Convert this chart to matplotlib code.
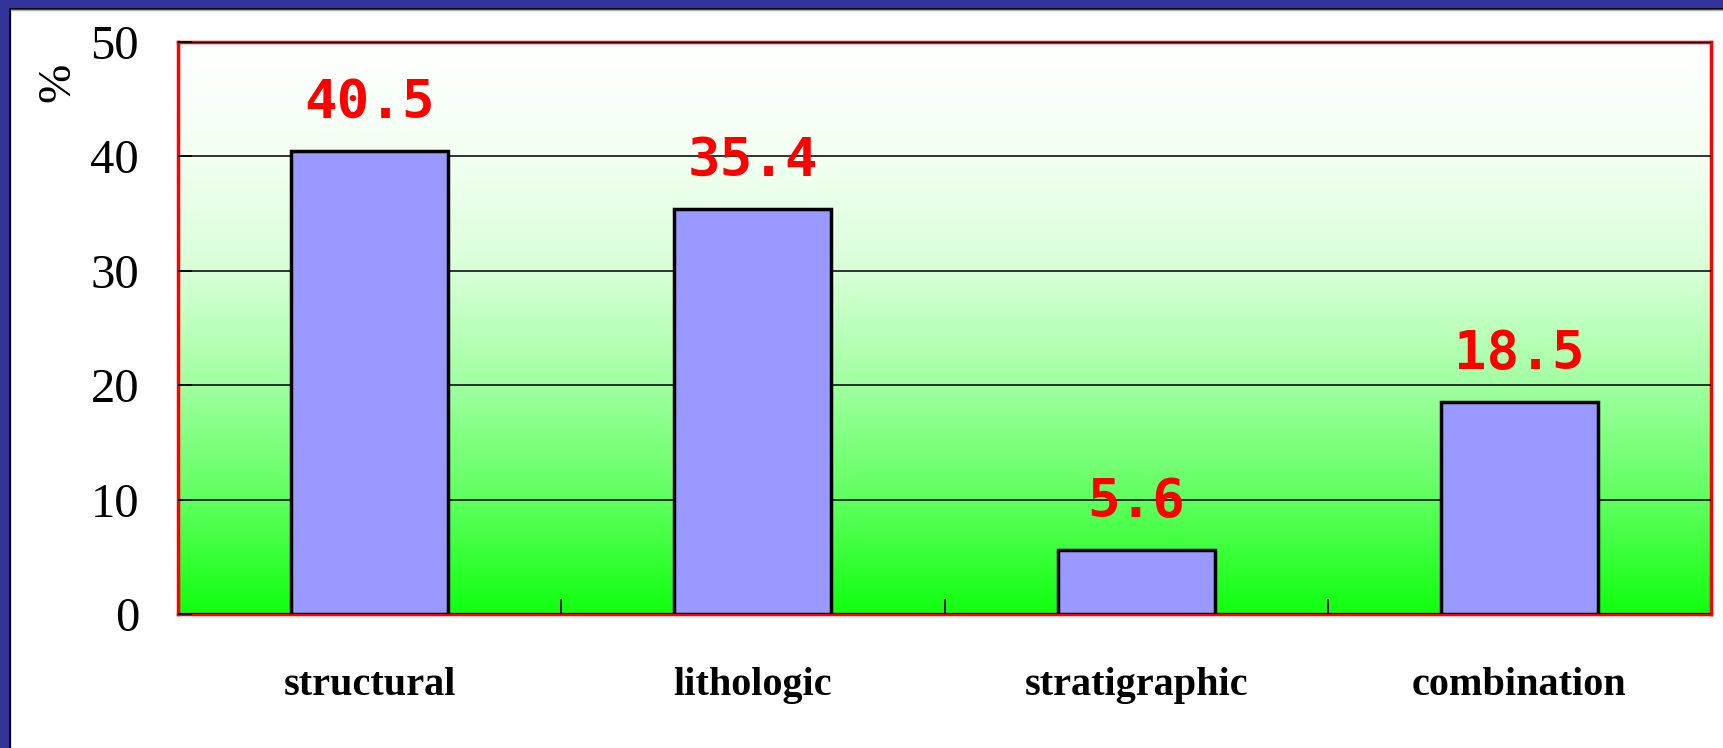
import matplotlib

matplotlib.use("Agg")
import matplotlib.pyplot as plt
import numpy as np
from matplotlib.colors import LinearSegmentedColormap
from matplotlib.patches import Rectangle

categories = ["structural", "lithologic", "stratigraphic", "combination"]
values = [40.5, 35.4, 5.6, 18.5]
yticks = [0, 10, 20, 30, 40, 50]

W, H = 1724, 748
fig = plt.figure(figsize=(W / 100, H / 100), dpi=100)
fig.patch.set_facecolor("white")

# navy frame on top and left edge
fig.patches.append(Rectangle((0, 1 - 8 / H), 1, 8 / H, transform=fig.transFigure,
                             color="#333399", zorder=0))
fig.patches.append(Rectangle((0, 0), 10 / W, 1, transform=fig.transFigure,
                             color="#333399", zorder=0))
fig.add_artist(plt.Line2D([10.5 / W, 1], [1 - 8.5 / H] * 2, color="black", lw=1.2))
fig.add_artist(plt.Line2D([10.5 / W] * 2, [0, 1 - 8.5 / H], color="black", lw=1.2))
fig.add_artist(plt.Line2D([11 / W, 1], [1 - 10 / H] * 2, color="#b0b0b0", lw=1))

ax = fig.add_axes([178 / W, (H - 614) / H, 1533 / W, 572 / H])

# white -> green gradient background
grad = LinearSegmentedColormap.from_list(
    "bg", [(0.0, "#10ff10"), (0.2, "#60ff60"), (0.4, "#a0ffa0"),
           (0.6, "#d8ffd8"), (0.8, "#f2fff2"), (1.0, "#ffffff")])
ax.imshow(np.linspace(0, 1, 256).reshape(-1, 1), cmap=grad, origin="lower",
          aspect="auto", extent=[-0.5, 3.5, 0, 50], zorder=0)

x = np.arange(len(categories))
ax.bar(x, values, width=0.41, color="#9999ff", edgecolor="black", linewidth=2.5, zorder=3)
for xi, v in zip(x, values):
    ax.annotate(f"{v}", (xi, v), xytext=(0, 24), textcoords="offset points",
                ha="center", va="baseline", color="#ff0000", fontsize=39,
                fontweight="bold", family="DejaVu Sans Mono", zorder=4)

ax.set_xlim(-0.5, 3.5)
ax.set_ylim(0, 50)
ax.set_yticks(yticks)
ax.yaxis.grid(True, color="#101010", linewidth=1.2, zorder=1)
ax.set_axisbelow(False)
ax.set_xticks(x)
ax.set_xticklabels(categories, fontsize=29, fontweight="bold", family="Liberation Serif")
ax.set_xticks([0.5, 1.5, 2.5], minor=True)
ax.tick_params(axis="x", which="major", length=0, pad=38)
ax.tick_params(axis="x", which="minor", direction="in", length=11, width=1.2, color="black")
ax.tick_params(axis="y", direction="in", length=10, width=1.2, pad=28, labelsize=35)
for lab in ax.get_yticklabels():
    lab.set_family("Liberation Serif")
for sp in ax.spines.values():
    sp.set_color("#ff0000")
    sp.set_linewidth(2.5)

fig.text(58 / W, 1 - 82 / H, "%", rotation=90, ha="center", va="center",
         fontsize=34, family="Liberation Serif")

fig.savefig("out.png", dpi=100)
